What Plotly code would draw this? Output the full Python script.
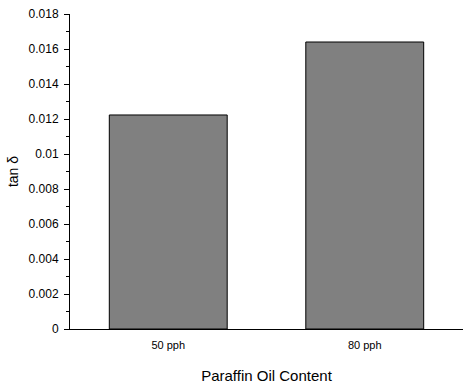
import plotly.graph_objects as go

categories = ["50 pph", "80 pph"]
tan_delta = [0.01223, 0.0164]
y_tick_vals = [0, 0.002, 0.004, 0.006, 0.008, 0.01, 0.012, 0.014, 0.016, 0.018]
y_tick_text = ["0", "0.002", "0.004", "0.006", "0.008", "0.01", "0.012", "0.014", "0.016", "0.018"]

fig = go.Figure(go.Bar(
    x=categories, y=tan_delta, width=0.6,
    marker=dict(color="#808080", line=dict(color="black", width=1)),
))

font = "Arial, Liberation Sans, sans-serif"
fig.update_layout(
    width=473, height=386,
    margin=dict(l=70, r=10, t=14, b=57),
    plot_bgcolor="white", paper_bgcolor="white",
    showlegend=False,
    font=dict(family=font, color="black", size=11),
)
fig.update_xaxes(
    range=[-0.5, 1.5], showline=True, linecolor="black", linewidth=1,
    ticks="", showgrid=False, automargin=False,
    tickfont=dict(size=11, color="black"), ticklabelstandoff=6,
    title=dict(text="Paraffin Oil Content", font=dict(size=15), standoff=20),
)
fig.update_yaxes(
    range=[0, 0.018], showline=True, linecolor="black", linewidth=1,
    ticks="outside", ticklen=5, tickcolor="black", showgrid=False, zeroline=False,
    tickvals=y_tick_vals, ticktext=y_tick_text, automargin=False,
    tickfont=dict(size=12, color="black"), ticklabelstandoff=3,
    minor=dict(ticks="outside", ticklen=3, dtick=0.001, tickcolor="black", showgrid=False),
    title=dict(text="tan δ", font=dict(size=14), standoff=6),
)
fig.write_html("out.html", config={"displayModeBar": False},
               post_script="document.body.style.margin='0';")
